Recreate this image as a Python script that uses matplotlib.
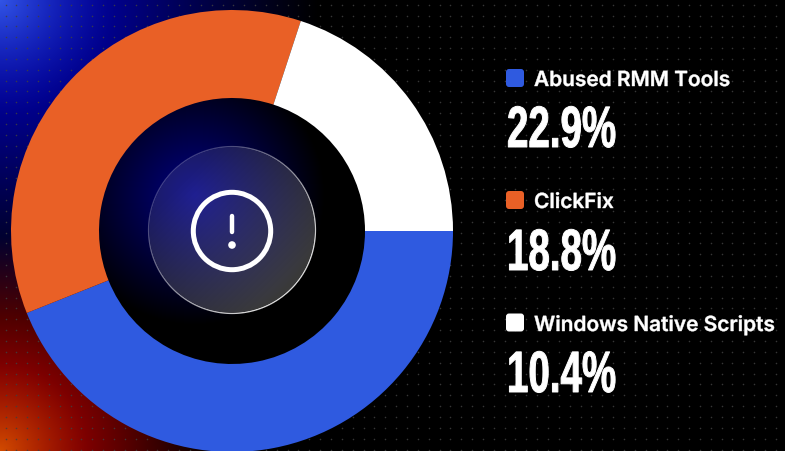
import numpy as np
import matplotlib
matplotlib.use('Agg')
import matplotlib.pyplot as plt
import matplotlib.patheffects as pe
from matplotlib.patches import Circle, FancyBboxPatch
from matplotlib.transforms import Affine2D

labels = ['Abused RMM Tools', 'ClickFix', 'Windows Native Scripts']
values = [22.9, 18.8, 10.4]
colors = ['#2f5ae0', '#e96026', '#ffffff']

W, H = 785, 451
CX, CY = 232, 220  # donut centre, y measured from the bottom
OUTER, INNER = 221, 133


class Squeeze(pe.AbstractPathEffect):
    # draws text narrower than the font, with an optional outline for weight
    def __init__(self, sx, stroke=0):
        self.sx = sx
        self.stroke = stroke

    def draw_path(self, renderer, gc, tpath, affine, rgbFace=None):
        gc0 = renderer.new_gc()
        gc0.copy_properties(gc)
        gc0.set_linewidth(self.stroke)
        gc0.set_foreground(rgbFace)
        new_affine = Affine2D().scale(self.sx, 1) + affine
        renderer.draw_path(gc0, tpath, new_affine, rgbFace)
        gc0.restore()


def falloff(d, reach, power=1.0):
    return np.clip(1 - d / reach, 0, 1) ** power


def background():
    yy, xx = np.mgrid[0:H, 0:W] + 0.5
    # y runs upward here, so the blue corner is at y = H
    d_blue = np.hypot(xx, yy - H)
    d_red = np.hypot(xx, yy)
    d_hole = np.hypot(xx - 195, yy - (H - 195))
    img = np.zeros((H, W, 3))
    img[..., 0] = 50 * falloff(d_blue, 120, 1.5) + 210 * falloff(d_red, 215)
    img[..., 1] = 85 * falloff(d_blue, 120, 1.5) + 75 * falloff(d_red, 90, 1.3)
    img[..., 2] = 230 * falloff(d_blue, 320, 1.15)
    # the hole has its own dark field with a single blue glow
    in_hole = np.hypot(xx - CX, yy - CY) < INNER + 2
    img[in_hole] = 0
    img[..., 2] += in_hole * 130 * falloff(d_hole, 130)
    return np.clip(img, 0, 255) / 255


def glass_disc(r=84.0):
    # white veil that gets denser to the lower right, with a lit rim
    size = int(2 * r + 6)
    yy, xx = np.mgrid[0:size, 0:size] + 0.5
    dx, dy = xx - size / 2, yy - size / 2
    d = np.hypot(dx, dy)
    slope = np.clip(0.5 + (dx - dy) / (2.4 * r), 0, 1)  # 0 upper left, 1 lower right
    inside = np.clip(r + 0.5 - d, 0, 1)
    ring = np.clip(1.2 - np.abs(d - (r - 0.6)), 0, 1)
    rgba = np.ones((size, size, 4))
    rgba[..., 3] = np.maximum(inside * (0.11 + 0.12 * slope), ring * (0.25 + 0.6 * slope))
    return rgba, size


fig = plt.figure(figsize=(W / 100, H / 100), dpi=100, facecolor='black')
ax = fig.add_axes([0, 0, 1, 1])
ax.imshow(background(), origin='lower', extent=(0, W, 0, H), zorder=0)

# dot grid, left out where the donut sits
gx, gy = np.meshgrid(np.arange(5.55, W, 10.85), np.arange(H - 4.65, 0, -10.85))
keep = np.hypot(gx - CX, gy - CY) > OUTER
ax.scatter(gx[keep], gy[keep], s=1.3, color='#404040', alpha=0.85, linewidths=0, zorder=1)

wedges, _ = ax.pie(values, colors=colors, startangle=0, counterclock=False,
                   center=(CX, CY), radius=OUTER, frame=True,
                   wedgeprops=dict(width=OUTER - INNER, linewidth=0))
for w in wedges:
    w.set_zorder(2)

disc_rgba, disc_size = glass_disc()
ax.imshow(disc_rgba, origin='lower', interpolation='nearest', zorder=3,
          extent=(CX - disc_size / 2, CX + disc_size / 2, CY + 1 - disc_size / 2, CY + 1 + disc_size / 2))

# warning icon
ax.add_patch(Circle((CX, CY), 38.7, facecolor='none', edgecolor='white', linewidth=3.6, zorder=5))
ax.plot([CX, CX], [H - 216, H - 232], color='white', linewidth=3.2, solid_capstyle='round', zorder=5)
ax.add_patch(Circle((CX, H - 245), 3.8, facecolor='white', linewidth=0, zorder=5))

# legend with big percentages
square_y = [78, 200, 322.5]
label_y = [86, 208, 331]
value_y = [147, 270, 392]
for i in range(3):
    ax.add_patch(FancyBboxPatch((509, H - square_y[i] - 6), 12, 12, boxstyle='round,pad=3,rounding_size=3',
                                facecolor=colors[i], linewidth=0, zorder=5))
    ax.text(534, H - label_y[i], labels[i], color='white', fontsize=15, family='Inter',
            fontweight='semibold', va='baseline', ha='left', zorder=5,
            path_effects=[Squeeze(1.0, 0.3)])
    ax.text(507, H - value_y[i], f'{values[i]}%', color='white', fontsize=42, family='Liberation Sans',
            fontweight='bold', va='baseline', ha='left', zorder=5,
            path_effects=[Squeeze(0.66, 0.7)])

ax.set_xlim(0, W)
ax.set_ylim(0, H)
ax.set_aspect('equal')
ax.axis('off')
fig.savefig('out.png', dpi=100, facecolor='black')
